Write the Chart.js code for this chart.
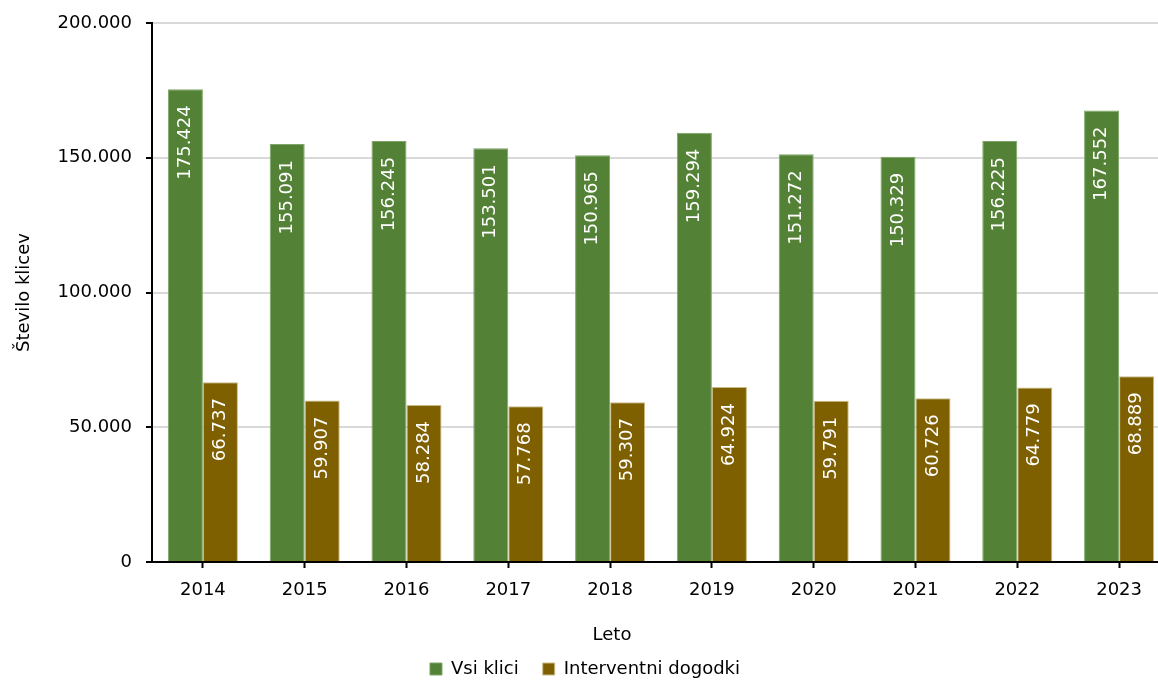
<!DOCTYPE html>
<html>
<head>
<meta charset="utf-8">
<script src="https://cdn.jsdelivr.net/npm/chart.js@4.4.1/dist/chart.umd.min.js"></script>
<style>
	html, body{margin:0; padding:0; background:#fff; overflow:hidden;}
	#wrap{width:1172px; height:684px; position:relative;}
</style>
</head>
<body>
<div id="wrap"><canvas id="chart"></canvas></div>
<script>
let years = ["2014", "2015", "2016", "2017", "2018", "2019", "2020", "2021", "2022", "2023"];
let vsiKlici = [175424, 155091, 156245, 153501, 150965, 159294, 151272, 150329, 156225, 167552];
let interventni = [66737, 59907, 58284, 57768, 59307, 64924, 59791, 60726, 64779, 68889];
let yTicks = [0, 50000, 100000, 150000, 200000];

let FONT = "'DejaVu Sans', Verdana, sans-serif";

function fmt(n){
	return String(n).replace(/\B(?=(\d{3})+(?!\d))/g, ".");
}

//white rotated value labels inside the top of each bar
let barLabels = {
	id: "barLabels",
	afterDatasetsDraw(chart){
		let ctx = chart.ctx;
		chart.data.datasets.forEach((ds, i) => {
			let meta = chart.getDatasetMeta(i);
			meta.data.forEach((bar, j) => {
				ctx.save();
				ctx.translate(bar.x, bar.y + 16);
				ctx.rotate(-Math.PI / 2);
				ctx.font = "18px " + FONT;
				ctx.fillStyle = "#ffffff";
				ctx.textAlign = "right";
				ctx.textBaseline = "middle";
				ctx.fillText(fmt(ds.data[j]), 0, 0);
				ctx.restore();
			});
		});
	}
};

//x axis title, placed like in the original
let xTitle = {
	id: "xTitle",
	afterDraw(chart){
		let ctx = chart.ctx;
		ctx.save();
		ctx.font = "18px " + FONT;
		ctx.fillStyle = "#000";
		ctx.textAlign = "center";
		ctx.textBaseline = "middle";
		ctx.fillText("Leto", 612, chart.chartArea.bottom + 73);
		ctx.restore();
	}
};

let ctx = document.getElementById("chart").getContext("2d");
let chart = new Chart(ctx, {
	type: "bar",
	data: {
		labels: years,
		datasets: [{
			label: "Vsi klici",
			data: vsiKlici,
			backgroundColor: "#538135",
			borderColor: "#7ea565",
			borderWidth: 1
		}, {
			label: "Interventni dogodki",
			data: interventni,
			backgroundColor: "#7f6000",
			borderColor: "#c9bb85",
			borderWidth: 1
		}]
	},
	options: {
		responsive: true,
		maintainAspectRatio: false,
		animation: false,
		layout: {padding: {top: 22, right: 2, left: 0, bottom: -4}},
		categoryPercentage: 0.688,
		barPercentage: 1,
		plugins: {
			tooltip: {enabled: false},
			legend: {
				position: "bottom",
				labels: {
					font: {family: FONT, size: 18},
					color: "#000",
					boxWidth: 12,
					boxHeight: 12,
					padding: 24
				}
			}
		},
		scales: {
			x: {
				grid: {
					offset: false,
					drawOnChartArea: false,
					tickLength: 6,
					tickColor: "#000",
					tickWidth: 2
				},
				border: {color: "#000", width: 2},
				ticks: {
					font: {family: FONT, size: 18},
					color: "#000",
					padding: 12
				},
				afterFit: s => { s.height = 74; }
			},
			y: {
				min: 0,
				max: 200000,
				afterBuildTicks: s => { s.ticks = yTicks.map(v => ({value: v})); },
				grid: {
					color: "#d9d9d9",
					lineWidth: 2,
					tickLength: 6,
					tickColor: "#000",
					tickWidth: 2
				},
				border: {color: "#000", width: 2},
				ticks: {
					font: {family: FONT, size: 18, lineHeight: 1},
					color: "#000",
					padding: 14,
					callback: v => fmt(v)
				},
				title: {
					display: true,
					text: "Število klicev",
					font: {family: FONT, size: 18},
					color: "#000",
					padding: {top: 14, bottom: 0}
				},
				afterFit: s => { s.width = 152; }
			}
		}
	},
	plugins: [barLabels, xTitle]
});
</script>
</body>
</html>
